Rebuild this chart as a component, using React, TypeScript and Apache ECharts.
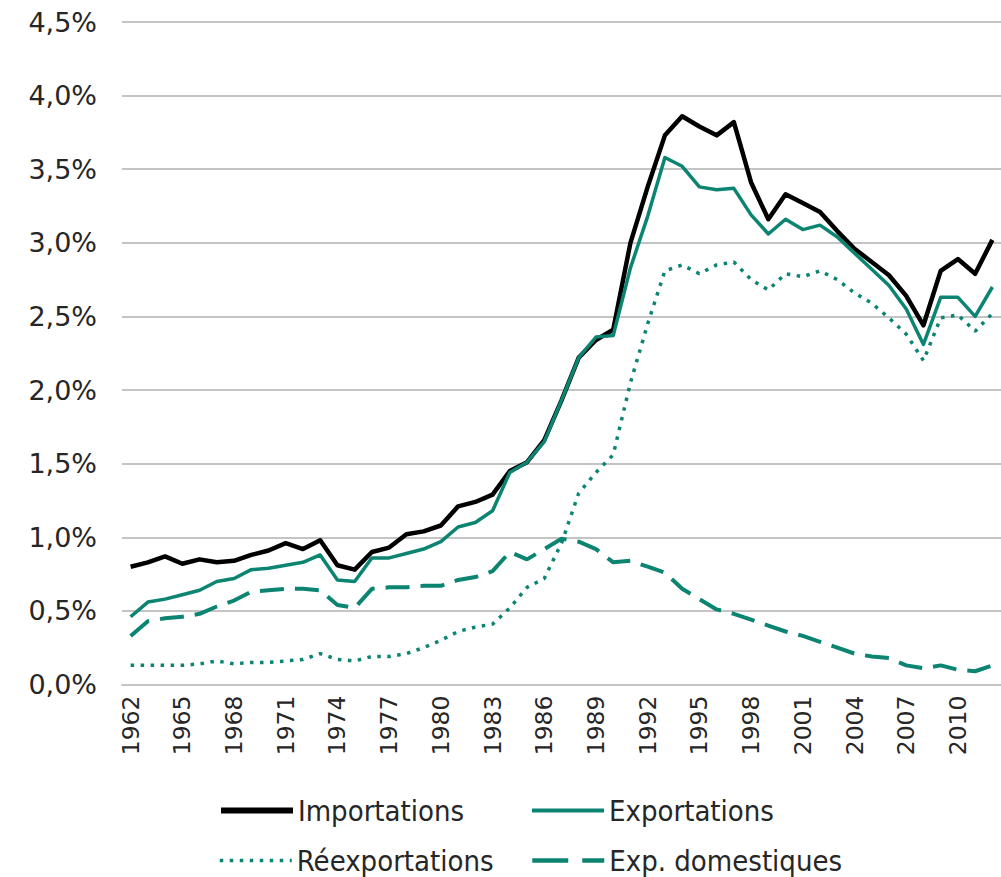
import React, { useEffect, useRef } from "react";
import * as echarts from "echarts";

const years: string[] = [];
for (let y = 1962; y <= 2012; y++) years.push(String(y));

const importations = [
  0.80, 0.83, 0.87, 0.82, 0.85, 0.83, 0.84, 0.88, 0.91, 0.96,
  0.92, 0.98, 0.81, 0.78, 0.90, 0.93, 1.02, 1.04, 1.08, 1.21,
  1.24, 1.29, 1.45, 1.51, 1.66, 1.93, 2.22, 2.34, 2.41, 3.00,
  3.38, 3.73, 3.86, 3.79, 3.73, 3.82, 3.41, 3.16, 3.33, 3.27,
  3.21, 3.08, 2.96, 2.87, 2.78, 2.64, 2.44, 2.81, 2.89, 2.79, 3.02,
];

const exportations = [
  0.46, 0.56, 0.58, 0.61, 0.64, 0.70, 0.72, 0.78, 0.79, 0.81,
  0.83, 0.88, 0.71, 0.70, 0.86, 0.86, 0.89, 0.92, 0.97, 1.07,
  1.10, 1.18, 1.44, 1.51, 1.65, 1.93, 2.22, 2.36, 2.37, 2.83,
  3.18, 3.58, 3.52, 3.38, 3.36, 3.37, 3.19, 3.06, 3.16, 3.09,
  3.12, 3.04, 2.93, 2.82, 2.71, 2.55, 2.31, 2.63, 2.63, 2.50, 2.70,
];

const reexportations = [
  0.13, 0.13, 0.13, 0.13, 0.14, 0.16, 0.14, 0.15, 0.15, 0.16,
  0.17, 0.21, 0.17, 0.16, 0.19, 0.19, 0.21, 0.25, 0.30, 0.36,
  0.39, 0.41, 0.52, 0.66, 0.72, 0.96, 1.30, 1.44, 1.56, 2.05,
  2.45, 2.81, 2.85, 2.79, 2.85, 2.87, 2.75, 2.68, 2.79, 2.77,
  2.81, 2.75, 2.66, 2.59, 2.49, 2.38, 2.20, 2.49, 2.51, 2.40, 2.52,
];

const expDomestiques = [
  0.33, 0.43, 0.45, 0.46, 0.48, 0.53, 0.57, 0.63, 0.64, 0.65,
  0.65, 0.64, 0.54, 0.52, 0.65, 0.66, 0.66, 0.67, 0.67, 0.71,
  0.73, 0.77, 0.90, 0.85, 0.92, 0.99, 0.97, 0.92, 0.83, 0.84,
  0.80, 0.76, 0.65, 0.58, 0.51, 0.48, 0.44, 0.40, 0.36, 0.33,
  0.29, 0.25, 0.21, 0.19, 0.18, 0.13, 0.11, 0.13, 0.10, 0.09, 0.13,
];

const seriesNames = ["Importations", "Exportations", "Réexportations", "Exp. domestiques"];

const BLACK = "#000000";
const TEAL = "#0B8472";
const TEXT = "#262626";

export default function App() {
  const ref = useRef<HTMLDivElement>(null);

  useEffect(() => {
    if (!ref.current) return;
    const chart = echarts.init(ref.current, undefined, { renderer: "svg" });
    const legendFont = {
      fontFamily: "DejaVu Sans Condensed",
      fontSize: 29,
      color: TEXT,
    };
    const mkLegend = (name: string, left: number, top: number, lw: number, dash: any) => ({
      data: [name],
      left,
      top,
      itemWidth: 72,
      itemHeight: 14,
      padding: 0,
      selectedMode: false,
      itemStyle: { opacity: 0 },
      lineStyle: { width: lw, type: dash },
      textStyle: legendFont,
    });
    chart.setOption({
      animation: false,
      backgroundColor: "#ffffff",
      grid: { left: 122, top: 22, width: 881, bottom: 192.5 },
      xAxis: {
        type: "category",
        data: years,
        boundaryGap: true,
        axisLine: { show: true, lineStyle: { color: "#c4c4c4", width: 2 } },
        axisTick: { show: false },
        axisLabel: {
          interval: 2,
          rotate: 90,
          margin: 11,
          fontFamily: "DejaVu Sans",
          fontSize: 23.5,
          color: TEXT,
        },
      },
      yAxis: {
        type: "value",
        min: 0,
        max: 4.5,
        interval: 0.5,
        axisLine: { show: false },
        axisTick: { show: false },
        splitLine: { show: true, lineStyle: { color: "#c4c4c4", width: 2 } },
        axisLabel: {
          margin: 25,
          fontFamily: "DejaVu Sans",
          fontSize: 27,
          color: TEXT,
          formatter: (v: number) => v.toFixed(1).replace(".", ",") + "%",
        },
      },
      legend: [
        mkLegend(seriesNames[0], 218, 796, 6, "solid"),
        mkLegend(seriesNames[1], 530, 796, 4, "solid"),
        mkLegend(seriesNames[2], 218, 846, 3.5, [3.5, 6.5]),
        mkLegend(seriesNames[3], 530, 846, 4.5, [36, 14]),
      ],
      series: [
        {
          name: seriesNames[0],
          type: "line",
          data: importations,
          symbol: "none",
          lineStyle: { color: BLACK, width: 4.5, join: "round" },
          itemStyle: { color: BLACK },
        },
        {
          name: seriesNames[1],
          type: "line",
          data: exportations,
          symbol: "none",
          lineStyle: { color: TEAL, width: 3.5, join: "round" },
          itemStyle: { color: TEAL },
        },
        {
          name: seriesNames[2],
          type: "line",
          data: reexportations,
          symbol: "none",
          lineStyle: { color: TEAL, width: 3.5, type: [3.5, 6.5] },
          itemStyle: { color: TEAL },
        },
        {
          name: seriesNames[3],
          type: "line",
          data: expDomestiques,
          symbol: "none",
          lineStyle: { color: TEAL, width: 4, type: [24, 11] },
          itemStyle: { color: TEAL },
        },
      ],
    });
    return () => chart.dispose();
  }, []);

  return (
    <div
      ref={ref}
      style={{ position: "absolute", left: 0, top: 0, width: 1001, height: 877 }}
    />
  );
}
